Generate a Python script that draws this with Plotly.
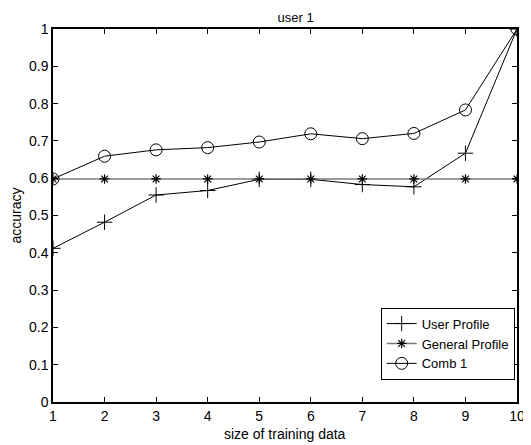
import plotly.graph_objects as go

x_vals = [1, 2, 3, 4, 5, 6, 7, 8, 9, 10]
user_profile = [0.412, 0.482, 0.555, 0.567, 0.597, 0.597, 0.583, 0.577, 0.667, 1.0]
general_profile = [0.598, 0.598, 0.598, 0.598, 0.598, 0.598, 0.598, 0.598, 0.598, 0.598]
comb1 = [0.598, 0.659, 0.676, 0.682, 0.697, 0.719, 0.706, 0.72, 0.783, 1.0]
x_ticks = [1, 2, 3, 4, 5, 6, 7, 8, 9, 10]
y_ticks = [0, 0.1, 0.2, 0.3, 0.4, 0.5, 0.6, 0.7, 0.8, 0.9, 1]
y_tick_labels = ["0", "0.1", "0.2", "0.3", "0.4", "0.5", "0.6", "0.7", "0.8", "0.9", "1"]

FONT = "Liberation Sans, Arial"

fig = go.Figure()
fig.add_trace(go.Scatter(x=x_vals, y=user_profile, name="User Profile", mode="lines+markers",
                         line=dict(color="black", width=1),
                         marker=dict(symbol="cross-thin-open", size=11, color="black",
                                     line=dict(color="black", width=1))))
fig.add_trace(go.Scatter(x=x_vals, y=general_profile, name="General Profile", mode="lines+markers",
                         line=dict(color="#7a7a7a", width=1.6),
                         marker=dict(symbol="asterisk-open", size=8, color="black",
                                     line=dict(color="black", width=1.2))))
fig.add_trace(go.Scatter(x=x_vals, y=comb1, name="Comb 1", mode="lines+markers",
                         line=dict(color="black", width=1),
                         marker=dict(symbol="circle-open", size=12, color="black",
                                     line=dict(color="black", width=1))))

axis_common = dict(showgrid=False, zeroline=False, showline=True, linecolor="black", linewidth=1.5,
                   mirror="ticks", ticks="inside", ticklen=5, tickcolor="black", tickwidth=1,
                   automargin=False,
                   tickfont=dict(family=FONT, size=14, color="black"))

fig.update_layout(
    width=523, height=437,
    paper_bgcolor="white", plot_bgcolor="white",
    margin=dict(l=45, r=14, t=21, b=43),
    title=dict(text="user 1", x=0.55, xanchor="center", y=0.979, yanchor="middle",
               font=dict(family=FONT, size=13, color="black")),
    xaxis=dict(range=[1, 10], tickvals=x_ticks, **axis_common),
    yaxis=dict(range=[0, 1], tickvals=y_ticks, ticktext=y_tick_labels,
               title=dict(text="accuracy", standoff=4,
                          font=dict(family=FONT, size=14, color="black")),
               **axis_common),
    legend=dict(x=0.995, y=0.06, xanchor="right", yanchor="bottom",
                bgcolor="white", bordercolor="black", borderwidth=1,
                font=dict(family=FONT, size=13, color="black"),
                tracegroupgap=0, itemwidth=30),
    annotations=[dict(text="size of training data", xref="paper", yref="paper",
                      x=0.5, y=-0.086, xanchor="center", yanchor="middle", showarrow=False,
                      font=dict(family=FONT, size=14, color="black"))],
    showlegend=True,
)

fig.write_html("out.html")
